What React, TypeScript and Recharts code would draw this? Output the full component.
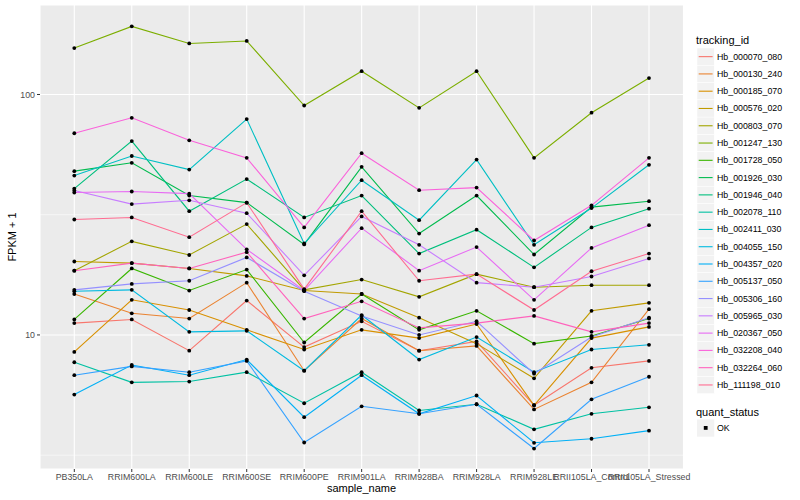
import { LineChart, Line, XAxis, YAxis, CartesianGrid, ReferenceLine } from "recharts";

const categories = [
  "PB350LA", "RRIM600LA", "RRIM600LE", "RRIM600SE", "RRIM600PE", "RRIM901LA",
  "RRIM928BA", "RRIM928LA", "RRIM928LE", "RRII105LA_Control", "RRII105LA_Stressed",
];

// FPKM + 1 per sample, one array per gene
const hb_000070_080 = [11.2, 11.6, 8.6, 13.9, 8.9, 11.4, 8.6, 9.4, 5.1, 7.3, 7.8];
const hb_000130_240 = [14.8, 12.3, 11.7, 16.5, 7.1, 11.7, 8.6, 9.0, 4.9, 6.35, 12.8];
const hb_000185_070 = [8.5, 14.0, 12.7, 10.5, 8.7, 10.5, 9.7, 11.1, 5.1, 9.7, 10.8];
const hb_000576_020 = [20.2, 19.9, 18.9, 17.6, 15.3, 14.8, 11.8, 9.2, 6.6, 12.6, 13.6];
const hb_000803_070 = [18.5, 24.5, 21.5, 28.9, 15.4, 17.0, 14.4, 17.9, 15.8, 16.1, 16.1];
const hb_001247_130 = [156, 192, 163, 167, 90, 125, 88, 125, 54.5, 84, 117];
const hb_001728_050 = [11.6, 18.9, 15.3, 18.7, 9.3, 14.8, 10.5, 12.6, 9.2, 9.9, 11.7];
const hb_001926_030 = [48, 52, 38, 35.5, 23.8, 50, 26.4, 38, 21.6, 34, 36];
const hb_001946_040 = [40.6, 64, 32.7, 44.5, 30.8, 38, 21.8, 27.4, 19.1, 28, 33.5];
const hb_002078_110 = [7.7, 6.35, 6.4, 7.0, 5.2, 7.0, 4.85, 5.15, 4.05, 4.7, 5.0];
const hb_002411_030 = [46, 55.5, 48.7, 79, 24, 44, 30, 53.6, 23.7, 33.7, 51];
const hb_004055_150 = [15.2, 15.4, 10.3, 10.4, 7.1, 12.1, 7.9, 9.8, 7.0, 8.7, 9.1];
const hb_004357_020 = [5.65, 7.5, 6.8, 7.9, 4.55, 6.8, 4.7, 5.6, 3.56, 3.7, 4.0];
const hb_005137_050 = [6.8, 7.4, 7.0, 7.8, 3.57, 5.05, 4.7, 5.15, 3.37, 5.4, 6.7];
const hb_005306_160 = [15.4, 16.3, 16.8, 21, 15.2, 12, 10, 11.4, 6.9, 9.8, 11.8];
const hb_005965_030 = [39.9, 35, 36.3, 32.1, 17.7, 31.1, 23.7, 16.5, 15.8, 17.5, 20.8];
const hb_020367_050 = [39.1, 39.5, 38.7, 22.7, 15.3, 27.8, 18.5, 23.2, 14, 23, 28.6];
const hb_032208_040 = [69, 80, 64.5, 54.5, 28, 57, 40, 41, 24.7, 34.6, 54.5];
const hb_032264_060 = [18.5, 19.9, 18.9, 22.1, 11.7, 13.8, 10.7, 11.2, 12, 10.3, 11.2];
const hb_111198_010 = [30.2, 30.8, 25.5, 35.5, 15.5, 32.7, 16.8, 17.9, 12.7, 18.4, 21.8];

const trackingIds = [
  "Hb_000070_080", "Hb_000130_240", "Hb_000185_070", "Hb_000576_020", "Hb_000803_070",
  "Hb_001247_130", "Hb_001728_050", "Hb_001926_030", "Hb_001946_040", "Hb_002078_110",
  "Hb_002411_030", "Hb_004055_150", "Hb_004357_020", "Hb_005137_050", "Hb_005306_160",
  "Hb_005965_030", "Hb_020367_050", "Hb_032208_040", "Hb_032264_060", "Hb_111198_010",
];
const seriesValues = [
  hb_000070_080, hb_000130_240, hb_000185_070, hb_000576_020, hb_000803_070,
  hb_001247_130, hb_001728_050, hb_001926_030, hb_001946_040, hb_002078_110,
  hb_002411_030, hb_004055_150, hb_004357_020, hb_005137_050, hb_005306_160,
  hb_005965_030, hb_020367_050, hb_032208_040, hb_032264_060, hb_111198_010,
];
const yTicks = [10, 100];
const yMinor = [3.1623, 31.623];

// ggplot hue palette for 20 levels
const COLORS = [
  "#F8766D", "#EA8331", "#D89000", "#C09B00", "#A3A500", "#7CAE00", "#39B600", "#00BB4E",
  "#00BF7D", "#00C1A3", "#00BFC4", "#00BAE0", "#00B0F6", "#35A2FF", "#9590FF", "#C77CFF",
  "#E76BF3", "#FA62DB", "#FF62BC", "#FF6C91",
];

const FONT = "'Liberation Sans', Arial, Helvetica, sans-serif";

const data = categories.map((name, i) => {
  const row: Record<string, string | number> = { name };
  trackingIds.forEach((id, s) => {
    row[id] = seriesValues[s][i];
  });
  return row;
});

function Overlay() {
  const keyTop = 48;
  const step = 17.28;
  return (
    <svg
      width={800}
      height={500}
      style={{ position: "absolute", left: 0, top: 0, pointerEvents: "none", fontFamily: FONT }}
    >
      <text x={12} y={237} transform="rotate(-90 12 237)" textAnchor="middle" dominantBaseline="central" fontSize={11} fill="#000">
        FPKM + 1
      </text>
      <text x={361.5} y={488} textAnchor="middle" dominantBaseline="central" fontSize={11} fill="#000">
        sample_name
      </text>
      <text x={696} y={40} dominantBaseline="central" fontSize={11} fill="#000">
        tracking_id
      </text>
      {trackingIds.map((id, i) => {
        const y = keyTop + i * step;
        return (
          <g key={id}>
            <rect x={697} y={y} width={17.28} height={17.28} fill="#F2F2F2" stroke="#FFFFFF" strokeWidth={0.5} />
            <line x1={698.7} x2={712.6} y1={y + 8.64} y2={y + 8.64} stroke={COLORS[i]} strokeWidth={1.1} />
            <text x={717} y={y + 8.64} dominantBaseline="central" fontSize={8.8} fill="#000">
              {id}
            </text>
          </g>
        );
      })}
      <text x={696} y={412} dominantBaseline="central" fontSize={11} fill="#000">
        quant_status
      </text>
      <rect x={697} y={419.4} width={17.28} height={17.28} fill="#F2F2F2" />
      <rect x={703.8} y={426} width={3.8} height={3.8} fill="#000" />
      <text x={717} y={428} dominantBaseline="central" fontSize={8.8} fill="#000">
        OK
      </text>
    </svg>
  );
}

export default function App() {
  return (
    <div style={{ position: "absolute", left: 0, top: 0, width: 800, height: 500, background: "#fff" }}>
      <LineChart
        width={800}
        height={500}
        data={data}
        margin={{ top: 5, right: 116.5, left: 0, bottom: 0 }}
        style={{ fontFamily: FONT }}
      >
        <CartesianGrid fill="#EBEBEB" fillOpacity={1} stroke="#FFFFFF" strokeWidth={1.1} />
        {yMinor.map((v) => (
          <ReferenceLine key={v} y={v} stroke="#FFFFFF" strokeWidth={0.55} />
        ))}
        <XAxis
          dataKey="name"
          interval={0}
          height={31}
          padding={{ left: 34.3, right: 34.5 }}
          axisLine={false}
          tickSize={3}
          tickLine={{ stroke: "#333333" }}
          tick={{ fontSize: 8.8, fill: "#4D4D4D" }}
        />
        <YAxis
          type="number"
          scale="log"
          domain={[2.77, 235.6]}
          allowDataOverflow
          ticks={yTicks}
          width={40}
          axisLine={false}
          tickSize={3}
          tickLine={{ stroke: "#333333" }}
          tick={{ fontSize: 8.8, fill: "#4D4D4D" }}
        />
        {trackingIds.map((id, i) => (
          <Line
            key={id}
            dataKey={id}
            stroke={COLORS[i]}
            strokeWidth={1.1}
            dot={false}
            activeDot={false}
            isAnimationActive={false}
          />
        ))}
        {trackingIds.map((id) => (
          <Line
            key={`pt-${id}`}
            dataKey={id}
            stroke="none"
            dot={{ r: 1.9, fill: "#000000", stroke: "none" }}
            activeDot={false}
            legendType="none"
            isAnimationActive={false}
          />
        ))}
      </LineChart>
      <Overlay />
    </div>
  );
}
